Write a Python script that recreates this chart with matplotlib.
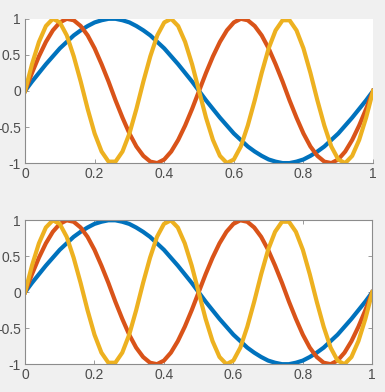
import matplotlib
matplotlib.use("Agg")
import matplotlib.pyplot as plt

# sample positions and values
x = [0.00, 0.02, 0.04, 0.06, 0.08, 0.10, 0.12, 0.14, 0.16, 0.18,
     0.20, 0.22, 0.24, 0.26, 0.28, 0.30, 0.32, 0.34, 0.36, 0.38,
     0.40, 0.42, 0.44, 0.46, 0.48, 0.50, 0.52, 0.54, 0.56, 0.58,
     0.60, 0.62, 0.64, 0.66, 0.68, 0.70, 0.72, 0.74, 0.76, 0.78,
     0.80, 0.82, 0.84, 0.86, 0.88, 0.90, 0.92, 0.94, 0.96, 0.98, 1.00]

blue = [0, .13, .25, .37, .48, .59, .68, .77, .84, .90,
        .95, .98, 1.0, 1.0, .98, .95, .90, .84, .77, .68,
        .59, .48, .37, .25, .13, 0, -.13, -.25, -.37, -.48,
        -.59, -.68, -.77, -.84, -.90, -.95, -.98, -1.0, -1.0, -.98,
        -.95, -.90, -.84, -.77, -.68, -.59, -.48, -.37, -.25, -.13, 0]

red = [0, .25, .48, .68, .84, .95, 1.0, .98, .90, .77,
       .59, .37, .13, -.13, -.37, -.59, -.77, -.90, -.98, -1.0,
       -.95, -.84, -.68, -.48, -.25, 0, .25, .48, .68, .84,
       .95, 1.0, .98, .90, .77, .59, .37, .13, -.13, -.37,
       -.59, -.77, -.90, -.98, -1.0, -.95, -.84, -.68, -.48, -.25, 0]

yellow = [0, .37, .68, .90, 1.0, .95, .77, .48, .13, -.25,
          -.59, -.84, -.98, -.98, -.84, -.59, -.25, .13, .48, .77,
          .95, 1.0, .90, .68, .37, 0, -.37, -.68, -.90, -1.0,
          -.95, -.77, -.48, -.13, .25, .59, .84, .98, .98, .84,
          .59, .25, -.13, -.48, -.77, -.95, -1.0, -.90, -.68, -.37, 0]

xticks = [0, 0.2, 0.4, 0.6, 0.8, 1]
xticklabels = ["0", "0.2", "0.4", "0.6", "0.8", "1"]
yticks = [-1, -0.5, 0, 0.5, 1]
yticklabels = ["-1", "-0.5", "0", "0.5", "1"]

plt.rcParams["font.family"] = ["Liberation Sans", "DejaVu Sans"]
plt.rcParams["font.size"] = 10

fig = plt.figure(figsize=(3.85, 3.92), dpi=100, facecolor="#f0f0f0")
ax_top = fig.add_axes([0.065, 0.584, 0.904, 0.368])
ax_bot = fig.add_axes([0.065, 0.071, 0.902, 0.367])

for ax, boxed in [(ax_top, False), (ax_bot, True)]:
    ax.plot(x, blue, color="#0072bd", linewidth=3.0)
    ax.plot(x, red, color="#d95319", linewidth=3.0)
    ax.plot(x, yellow, color="#edb120", linewidth=3.0)
    ax.set_xlim(0, 1)
    ax.set_ylim(-1, 1)
    ax.set_xticks(xticks)
    ax.set_xticklabels(xticklabels)
    ax.set_yticks(yticks)
    ax.set_yticklabels(yticklabels)
    ax.tick_params(direction="in", length=3, width=0.6, colors="#8c8c8c",
                   labelcolor="#4d4d4d", labelsize=10, pad=3,
                   top=boxed, right=boxed)
    for side, sp in ax.spines.items():
        sp.set_color("#8c8c8c")
        sp.set_linewidth(0.8)
        if side in ("top", "right"):
            sp.set_visible(boxed)

fig.savefig("out.png", dpi=100, facecolor=fig.get_facecolor())
